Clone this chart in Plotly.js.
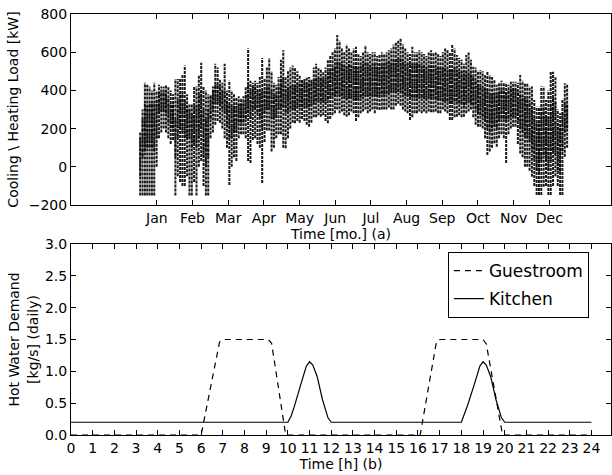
<!DOCTYPE html>
<html>
<head>
<meta charset="utf-8">
<script src="https://cdn.plot.ly/plotly-3.0.1.min.js"></script>
<style>html,body{margin:0;padding:0;background:#fff;}#chart{width:612px;height:475px;}</style>
</head>
<body>
<div id="chart"></div>
<script>
// ---- Panel (a): hourly cooling/heating load, summarised per 2-day bin (kW) ----
const loadHi = [
  180,300,440,430,420, 400,440,400,430,420, 420,430,420,400,380, 460,460,460,480,530,
  380,330,330,420,420, 480,545,420,400,380, 380,420,540,520,460, 440,540,400,450,400,
  380,360,370,360,370, 420,620,450,440,450, 440,470,570,460,520, 570,500,440,430,470,
  560,610,470,500,520, 530,520,500,480,460, 460,470,470,460,520, 540,520,510,500,520,
  560,580,600,620,690, 660,620,600,640,620, 600,620,629,590,580, 600,637,600,590,600,
  600,580,590,600,590, 600,610,620,640,650, 660,673,640,620,600, 590,629,600,600,610,
  600,590,580,600,610, 600,600,590,580,600, 620,610,600,640,620, 585,570,560,540,585,
  603,560,524,520,500, 507,500,480,500,480, 470,455,430,440,450, 440,440,430,445,445,
  445,440,480,450,437, 437,420,420,350,315, 315,420,420,350,400, 498,498,470,300,280,
  350,437,430];
const loadLo = [
  -150,-150,-150,-150,-150, -150,-150,0,150,180, 200,180,150,120,140, -150,-50,-80,-100,-100,
  -50,-150,-150,-80,-150, 0,30,-100,-150,-150, 150,180,220,240,230, 200,150,100,-95,0,
  50,30,150,170,170, 150,30,20,140,150, 120,100,-85,130,190, 190,80,100,150,170,
  170,100,97,150,200, 230,228,240,230,250, 240,220,210,230,260, 260,270,262,270,240,
  228,250,270,280,300, 280,290,270,262,270, 290,280,240,260,280, 290,300,280,290,300,
  280,300,297,300,300, 300,310,300,300,320, 330,320,300,290,280, 245,260,280,280,290,
  280,290,280,290,285, 285,290,280,280,300, 290,280,245,245,260, 262,270,260,262,280,
  290,300,260,220,210, 210,200,150,62,80, 100,123,105,150,170, 150,20,170,200,210,
  210,120,70,50,0, 0,-20,-52,-100,-147, -147,-147,-104,-100,-147, -147,-100,-50,-100,-147,
  -147,53,100];
const coreLo = [
  -50,50,80,100,100, 100,80,150,280,290, 290,280,230,200,200, 50,150,200,180,150,
  150,150,100,120,100, 150,200,50,0,50, 250,300,330,330,320, 300,280,220,150,150,
  180,180,230,230,230, 250,280,250,300,300, 280,260,200,280,300, 300,250,250,260,300,
  310,310,280,290,300, 300,300,310,310,310, 310,310,310,320,330, 340,340,340,340,330,
  350,360,370,370,380, 370,370,360,350,360, 360,350,350,350,360, 370,370,370,370,370,
  370,370,370,380,370, 380,380,390,390,390, 390,390,380,370,370, 360,360,360,360,360,
  360,360,350,360,360, 360,350,350,350,340, 340,340,330,330,340, 340,330,330,320,330,
  340,330,320,300,280, 270,260,240,200,180, 200,210,200,240,250, 250,240,250,260,260,
  260,240,200,180,160, 150,130,90,40,-20, -30,30,60,30,-20, 30,80,60,-20,-30,
  80,180,200];
const coreHi = [
  150,250,330,320,330, 330,330,350,390,390, 390,390,360,330,330, 250,350,380,380,350,
  320,300,280,320,320, 380,400,300,250,300, 370,400,430,430,420, 400,400,350,330,320,
  320,320,330,330,340, 380,430,400,420,420, 400,400,400,400,420, 420,400,380,380,420,
  460,470,420,420,430, 430,430,440,440,450, 450,440,440,450,460, 470,470,470,460,470,
  500,510,520,530,550, 550,540,530,530,540, 530,530,540,520,530, 540,550,540,530,540,
  540,530,540,540,540, 550,550,550,560,560, 570,570,550,540,540, 540,540,540,540,540,
  530,530,520,530,530, 530,520,520,520,520, 520,510,510,510,520, 510,500,500,490,500,
  500,490,470,450,430, 430,420,410,410,390, 380,390,380,400,410, 400,390,400,410,410,
  410,390,380,370,360, 360,340,310,260,230, 240,310,310,270,260, 330,360,340,230,210,
  290,340,330];
const binDays = 2;               // width of one bin in days
const monthTickDays = [15.2, 45.6, 76.0, 106.5, 136.9, 167.3, 197.7, 228.1, 258.5, 289.0, 319.4, 349.8];
const monthNames = ['Jan','Feb','Mar','Apr','May','Jun','Jul','Aug','Sep','Oct','Nov','Dec'];

// ---- Panel (b): daily hot water demand profiles (kg/s) ----
const guestHours = [0, 6.0, 6.85, 7.0, 9.1, 9.25, 9.9, 16.1, 16.85, 17.0, 19.0, 19.15, 19.9, 24];
const guestFlow  = [0, 0,   1.46, 1.5, 1.5, 1.44, 0,   0,    1.46,  1.5,  1.5,  1.43,  0,    0];
const kitchenHours = [0, 10.0, 10.15, 10.3, 10.6, 10.85, 11.0, 11.15, 11.35, 11.6, 11.85, 12.0,
                      18.0, 18.3, 18.6, 18.85, 19.0, 19.15, 19.35, 19.6, 19.85, 20.0, 24];
const kitchenFlow  = [0.2, 0.2, 0.3, 0.45, 0.8, 1.08, 1.15, 1.1, 0.92, 0.55, 0.27, 0.2,
                      0.2, 0.48, 0.8, 1.08, 1.15, 1.1, 0.92, 0.55, 0.27, 0.2, 0.2];

// build vertical segments for each bin from the arrays
function segs(lo, hi) {
  const xs = [], ys = [];
  for (let i = 0; i < lo.length; i++) {
    const d = i * binDays + binDays / 2;
    xs.push(d, d, null);
    ys.push(lo[i], hi[i], null);
  }
  return {xs, ys};
}
const outer = segs(loadLo, loadHi);
const core = segs(coreLo, coreHi);

const traces = [
  {type:'scatter', mode:'lines', x: outer.xs, y: outer.ys, xaxis:'x', yaxis:'y',
   line:{color:'rgba(0,0,0,0.9)', width:2, dash:'3px,1px'}, showlegend:false, hoverinfo:'skip'},
  {type:'scatter', mode:'lines', x: core.xs, y: core.ys, xaxis:'x', yaxis:'y',
   line:{color:'rgba(0,0,0,0.75)', width:2, dash:'4px,1px'}, showlegend:false, hoverinfo:'skip'},
  {type:'scatter', mode:'lines', name:'Guestroom', x: guestHours, y: guestFlow, xaxis:'x2', yaxis:'y2',
   line:{color:'#000', width:1.2, dash:'6px,5px'}, legendgroup:'g'},
  {type:'scatter', mode:'lines', name:'Kitchen', x: kitchenHours, y: kitchenFlow, xaxis:'x2', yaxis:'y2',
   line:{color:'#000', width:1.2}, legendgroup:'k'}
];

const axBase = {showline:true, linecolor:'#000', linewidth:1, mirror:'ticks', ticks:'inside',
  ticklen:5, tickcolor:'#000', showgrid:false, zeroline:false, tickfont:{size:14, color:'#000'}};

const layout = {
  width:612, height:475,
  margin:{l:71, r:1, t:14, b:40},
  paper_bgcolor:'#fff', plot_bgcolor:'#fff',
  font:{family:'DejaVu Sans, sans-serif', size:14, color:'#000'},
  showlegend:true,
  legend:{x:0.698, y:0.4347, xanchor:'left', yanchor:'top', bgcolor:'#fff', bordercolor:'#000',
    borderwidth:1, font:{size:17}, tracegroupgap:3},
  xaxis: Object.assign({}, axBase, {domain:[0,1], anchor:'y', range:[-58, 402.4],
    tickmode:'array', tickvals: monthTickDays, ticktext: monthNames,
    title:{text:'Time [mo.] (a)', font:{size:14}, standoff:1}}),
  yaxis: Object.assign({}, axBase, {domain:[0.5463,1], anchor:'x', range:[-200,800], dtick:200,
    title:{text:'Cooling \\ Heating Load [kW]', font:{size:14}, standoff:6}}),
  xaxis2: Object.assign({}, axBase, {domain:[0,1], anchor:'y2', range:[0,24.9], tick0:0, dtick:1,
    title:{text:'Time [h] (b)', font:{size:14}, standoff:1}}),
  yaxis2: Object.assign({}, axBase, {domain:[0,0.4537], anchor:'x2', range:[0,3], dtick:0.5, tickformat:'.1f',
    title:{text:'Hot Water Demand<br>[kg/s] (daily)', font:{size:14}, standoff:3}})
};

Plotly.newPlot('chart', traces, layout, {displayModeBar:false, staticPlot:true});
</script>
</body>
</html>
